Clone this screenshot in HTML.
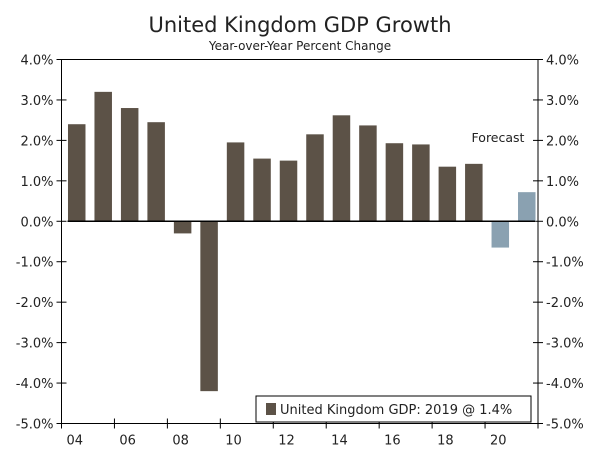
<!DOCTYPE html>
<html><head><meta charset="utf-8"><style>
body{margin:0;background:#fff;}
svg text{font-family:"DejaVu Sans","Liberation Sans",sans-serif;fill:#222;}
</style></head><body>
<svg width="600" height="450" xmlns="http://www.w3.org/2000/svg">
<text x="300" y="32" text-anchor="middle" font-size="21">United Kingdom GDP Growth</text>
<text x="300" y="50" text-anchor="middle" font-size="12">Year-over-Year Percent Change</text>
<g id="axes"></g>
<g id="bars"></g>
<line id="zero" stroke="#000" stroke-width="1.5"/>
<text x="498" y="142" text-anchor="middle" font-size="12.5">Forecast</text>
<g>
<rect x="256" y="396" width="275" height="26" fill="#fff" stroke="#000" stroke-width="1"/>
<rect x="266" y="403" width="10" height="12" fill="#5c5247"/>
<text x="280" y="414" font-size="13">United Kingdom GDP: 2019 @ 1.4%</text>
</g>
</svg>
<script>
const years=[2004,2005,2006,2007,2008,2009,2010,2011,2012,2013,2014,2015,2016,2017,2018,2019,2020,2021];
const values=[2.4,3.2,2.8,2.45,-0.3,-4.2,1.95,1.55,1.5,2.15,2.62,2.37,1.93,1.9,1.35,1.42,-0.65,0.72];
const forecastFrom=2020;
const yTicks=[4,3,2,1,0,-1,-2,-3,-4,-5];
const xLabels=["04","06","08","10","12","14","16","18","20"];
const NS="http://www.w3.org/2000/svg";
const L=61.5,R=538,T=59.5,B=423.5;
const yMin=-5,yMax=4;
function y(v){return T+(yMax-v)/(yMax-yMin)*(B-T);}
const step=(R-L)/years.length;
function xc(i){return L+step*(i+0.5)+2;}
function mk(t,a,p){const e=document.createElementNS(NS,t);for(const k in a)e.setAttribute(k,a[k]);p.appendChild(e);return e;}
const ax=document.getElementById('axes');
const frame=mk('rect',{x:L,y:T,width:R-L,height:B-T,fill:'none',stroke:'#000','stroke-width':1},ax);


yTicks.forEach(v=>{
  const yy=y(v);
  mk('line',{x1:L-5,x2:L+5,y1:yy,y2:yy,stroke:'#000'},ax);
  mk('line',{x1:R-5,x2:R+5,y1:yy,y2:yy,stroke:'#000'},ax);
  const lab=(v.toFixed(1))+'%';
  const t1=mk('text',{x:L-8,y:yy+5,'text-anchor':'end','font-size':13},ax);t1.textContent=lab;
  
  
  const t2=mk('text',{x:R+8,y:yy+5,'font-size':13},ax);t2.textContent=lab;
  
  
});
for(let i=0;i<=years.length;i+=2){
  const xx=L+step*i;
  mk('line',{x1:xx,x2:xx,y1:B-5,y2:B+5,stroke:'#000'},ax);
}
xLabels.forEach((s,k)=>{
  const t=mk('text',{x:L+step*(2*k+0.5),y:B+21,'text-anchor':'middle','font-size':13},ax);t.textContent=s;
  
  
});
const bg=document.getElementById('bars');
years.forEach((yr,i)=>{
  const v=values[i];
  const y0=y(0),y1=y(v);
  const r=mk('rect',{x:xc(i)-8.75,width:17.5,y:Math.min(y0,y1),height:Math.abs(y1-y0),fill:yr>=forecastFrom?'#8aa1b1':'#5c5247'},bg);
  
  
});
const z=document.getElementById('zero');
z.setAttribute('x1',L+6);z.setAttribute('x2',R-3);z.setAttribute('y1',y(0));z.setAttribute('y2',y(0));
</script>
</body></html>
